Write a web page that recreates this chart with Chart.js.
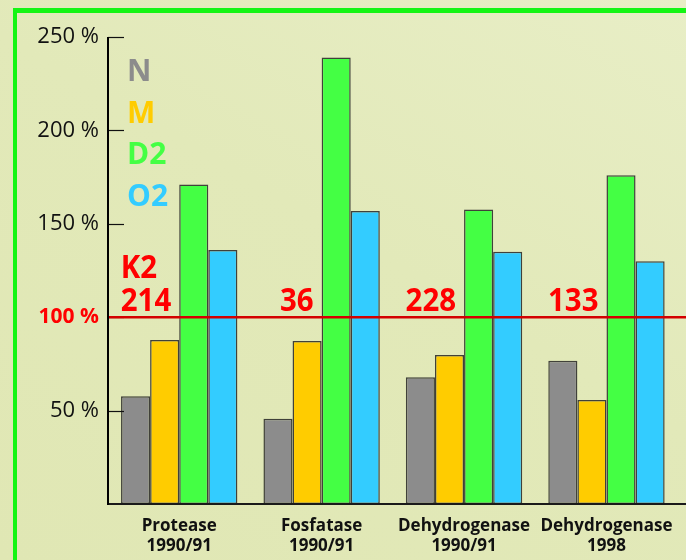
<!DOCTYPE html>
<html>
<head>
<meta charset="utf-8">
<script src="https://cdn.jsdelivr.net/npm/chart.js@4"></script>
<style>
  html, body { margin: 0; padding: 0; width: 686px; height: 560px; overflow: hidden; }
  body { background: linear-gradient(210deg, #e8eec6 0%, #e2e9b9 45%, #e0e7b4 100%); position: relative; }
  .frame { position: absolute; left: 13px; top: 8px; width: 760px; height: 700px; border-left: 4px solid #14f514; border-top: 5px solid #14f514; }
  #chart { position: absolute; left: 0; top: 0; }
</style>
</head>
<body>
<div class="frame"></div>
<canvas id="chart" width="686" height="560"></canvas>
<script>
const categories = [['Protease', '1990/91'], ['Fosfatase', '1990/91'], ['Dehydrogenase', '1990/91'], ['Dehydrogenase', '1998']];
const seriesNames = ['N', 'M', 'D2', 'O2'];
const seriesColors = ['#8c8c8c', '#ffcc00', '#44ff44', '#33ccff'];
const valuesN = [57.7, 45.6, 67.8, 76.7];
const valuesM = [87.8, 87.2, 79.8, 55.7];
const valuesD2 = [171, 239, 157.7, 176];
const valuesO2 = [136, 156.8, 135.1, 130];
const k2Values = [214, 36, 228, 133];
const yTicks = [0, 50, 100, 150, 200, 250];
const refValue = 100;

const RED = '#ff0000';
const LINE_RED = '#d40000';

// squeezed bold text, the original uses a condensed face
function narrowText(ctx, txt, x, y, squeeze) {
    const w = ctx.measureText(txt).width;
    ctx.fillText(txt, x, y, w * squeeze);
    return w * squeeze;
}

// axis line, inner tick marks, 100% line, K2 numbers and the coloured legend
const decor = {
    id: 'decor',
    afterDatasetsDraw(chart) {
        const ctx = chart.ctx;
        const area = chart.chartArea;
        const y = chart.scales.y;
        ctx.save();

        ctx.strokeStyle = '#111';
        ctx.lineWidth = 1.2;
        yTicks.forEach(v => {
            if (v === 0) return;
            const py = Math.round(y.getPixelForValue(v)) + 0.5;
            ctx.beginPath(); ctx.moveTo(area.left, py); ctx.lineTo(area.left + 16, py); ctx.stroke();
        });

        // baseline
        ctx.lineWidth = 2;
        ctx.strokeStyle = '#1a1a1a';
        const by = y.getPixelForValue(0);
        ctx.beginPath(); ctx.moveTo(area.left, by); ctx.lineTo(chart.width, by); ctx.stroke();

        // red 100 % line
        const ry = y.getPixelForValue(refValue);
        ctx.strokeStyle = LINE_RED;
        ctx.lineWidth = 2.5;
        ctx.beginPath(); ctx.moveTo(area.left, ry); ctx.lineTo(chart.width, ry); ctx.stroke();

        // y axis line
        ctx.strokeStyle = '#000';
        ctx.lineWidth = 2;
        ctx.beginPath(); ctx.moveTo(area.left, y.getPixelForValue(250)); ctx.lineTo(area.left, by + 1); ctx.stroke();

        // K2 numbers, right aligned before the D2 bar
        ctx.fillStyle = RED;
        ctx.font = 'bold 32px "Open Sans"';
        ctx.textBaseline = 'alphabetic';
        const greenBars = chart.getDatasetMeta(2).data;
        k2Values.forEach((v, i) => {
            const b = greenBars[i];
            const xr = b.x - b.width / 2 - 8;
            ctx.textAlign = 'right';
            const w = narrowText(ctx, String(v), xr, ry - 6, 0.92);
            if (i === 0) {
                ctx.textAlign = 'left';
                narrowText(ctx, 'K2', xr - w, ry - 39, 0.92);
            }
        });

        // legend
        ctx.font = 'bold 30px "Open Sans"';
        ctx.textAlign = 'left';
        seriesNames.forEach((name, i) => {
            ctx.fillStyle = seriesColors[i];
            ctx.fillText(name, area.left + 19, area.top + 44 + i * 41.5);
        });

        ctx.restore();
    }
};

const seriesValues = [valuesN, valuesM, valuesD2, valuesO2];

new Chart(document.getElementById('chart'), {
    type: 'bar',
    data: {
        labels: categories,
        datasets: seriesValues.map((vals, i) => ({
            label: seriesNames[i],
            data: vals,
            backgroundColor: seriesColors[i],
            borderColor: 'rgba(35,35,35,0.85)',
            borderWidth: 1.5,
            borderSkipped: false,
            categoryPercentage: 0.817,
            barPercentage: 1
        }))
    },
    options: {
        responsive: false,
        animation: false,
        layout: { padding: { top: 37, right: 4, bottom: 0, left: 0 } },
        plugins: { legend: { display: false }, tooltip: { enabled: false } },
        scales: {
            x: {
                afterFit: s => { s.height = 56; },
                grid: { display: false, drawTicks: false },
                border: { display: false },
                ticks: {
                    color: '#111',
                    padding: 13,
                    maxRotation: 0,
                    autoSkip: false,
                    font: { family: 'Open Sans', weight: 'bold', size: 17, lineHeight: 1.13 }
                }
            },
            y: {
                min: 0, max: 250,
                afterFit: s => { s.width = 108; },
                grid: { display: false, drawTicks: false },
                border: { display: false },
                afterBuildTicks: s => { s.ticks = yTicks.map(v => ({ value: v })); },
                ticks: {
                    padding: 9,
                    color: c => c.tick.value === refValue ? RED : '#111',
                    font: c => c.tick && c.tick.value === refValue
                        ? { family: 'Open Sans', weight: 'bold', size: 21 }
                        : { family: 'Open Sans', size: 22 },
                    callback: v => v === 0 ? '' : v + ' %'
                }
            }
        }
    },
    plugins: [decor]
});
</script>
</body>
</html>
